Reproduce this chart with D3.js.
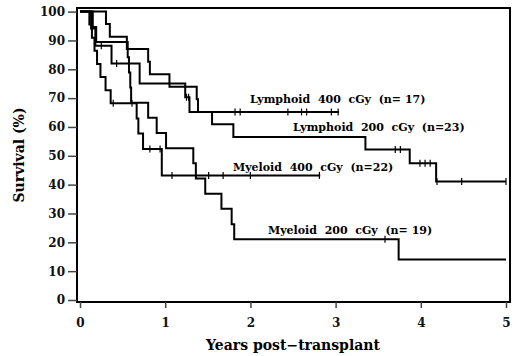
<!DOCTYPE html>
<html>
<head>
<meta charset="utf-8">
<script src="https://cdn.jsdelivr.net/npm/d3@7"></script>
<style>
  body { margin: 0; background: #fff; }
  text { font-family: "DejaVu Serif", "Liberation Serif", serif; font-weight: bold; }
</style>
</head>
<body>
<div id="chart"></div>
<script>
// Kaplan-Meier curves: drop times (years) and survival (%) after each drop
var lymph400Times = [0.13, 0.18, 0.37, 0.70, 1.235, 1.285];
var lymph400Surv = [94.1, 88.2, 82.0, 75.1, 70.3, 65.2];
var lymph400Cens = [0.25, 0.43, 1.25, 1.275, 1.82, 1.88, 2.44, 2.60, 2.66, 2.95, 3.03];
var lymph400End = 3.04;

var lymph200Times = [0.305, 0.35, 0.55, 0.80, 0.82, 1.05, 1.37, 1.385, 1.55, 1.80, 3.35, 3.87, 4.18];
var lymph200Surv = [95.7, 91.3, 87.0, 82.6, 78.3, 73.9, 69.6, 65.2, 60.9, 56.5, 52.2, 47.4, 41.1];
var lymph200Cens = [3.70, 3.76, 3.99, 4.05, 4.11, 4.19, 4.48, 5.0];
var lymph200End = 5.0;

var myelo400Times = [0.11, 0.14, 0.17, 0.20, 0.24, 0.30, 0.36, 0.665, 0.685, 0.74, 0.96];
var myelo400Surv = [95.5, 90.9, 86.4, 81.8, 77.3, 72.7, 68.2, 62.9, 57.7, 52.4, 43.2];
var myelo400Cens = [0.39, 0.61, 0.82, 0.94, 1.08, 1.51, 1.68, 2.0, 2.81];
var myelo400End = 2.82;

var myelo200Times = [0.15, 0.19, 0.56, 0.575, 0.59, 0.60, 0.80, 0.90, 1.01, 1.33, 1.36, 1.47, 1.66, 1.78, 1.81, 3.74];
var myelo200Surv = [94.7, 89.5, 84.2, 78.9, 73.7, 68.4, 63.2, 57.9, 52.6, 47.4, 42.1, 36.8, 31.6, 26.3, 21.1, 14.0];
var myelo200Cens = [3.58];
var myelo200End = 5.0;

// curve labels: text, start year, baseline survival
var labelNames = ["Lymphoid  400  cGy  (n= 17)", "Lymphoid  200  cGy  (n=23)", "Myeloid  400  cGy  (n=22)", "Myeloid  200  cGy  (n= 19)"];
var labelX = [1.995, 2.5, 1.796, 2.207];
var labelY = [68.2, 58.6, 44.8, 22.9];

var xTicks = [0, 1, 2, 3, 4, 5];
var yTicks = [0, 10, 20, 30, 40, 50, 60, 70, 80, 90, 100];

var width = 520, height = 356;

var svg = d3.select("#chart")
  .append("svg")
  .attr("width", width)
  .attr("height", height);

var x = d3.scaleLinear().domain([0, 5]).range([80, 506]);
var y = d3.scaleLinear().domain([0, 100]).range([300, 11.6]);

// frame
svg.append("rect")
  .attr("x", 77)
  .attr("y", 8)
  .attr("width", 510 - 77)
  .attr("height", 302 - 8)
  .attr("fill", "none")
  .attr("stroke", "#000")
  .attr("stroke-width", 2);

// y axis
var yAxis = svg.append("g")
  .attr("transform", "translate(77,0)")
  .call(d3.axisLeft(y).tickValues(yTicks).tickSize(9).tickPadding(3));
yAxis.select(".domain").remove();
yAxis.selectAll("line").attr("stroke", "#444").attr("stroke-width", 1.5);
yAxis.selectAll("text").style("font-size", "12px").attr("fill", "#111");

// x axis
var xAxis = svg.append("g")
  .attr("transform", "translate(0,302)")
  .call(d3.axisBottom(x).tickValues(xTicks).tickFormat(d3.format("d")).tickSize(6).tickPadding(10));
xAxis.select(".domain").remove();
xAxis.selectAll("line").attr("stroke", "#444").attr("stroke-width", 1.5);
xAxis.selectAll("text").style("font-size", "12px").attr("fill", "#111");

// axis titles
svg.append("text")
  .attr("x", 293)
  .attr("y", 350)
  .attr("text-anchor", "middle")
  .style("font-size", "14px")
  .text("Years post\u2212transplant");

svg.append("text")
  .attr("transform", "translate(24,155) rotate(-90)")
  .attr("text-anchor", "middle")
  .style("font-size", "14px")
  .text("Survival (%)");

var line = d3.line()
  .x(function (d) { return x(d[0]); })
  .y(function (d) { return y(d[1]); })
  .curve(d3.curveStepAfter);

function drawCurve(times, surv, cens, end) {
  var pts = [[0, 100]];
  times.forEach(function (t, i) { pts.push([t, surv[i]]); });
  pts.push([end, surv[surv.length - 1]]);

  svg.append("path")
    .attr("d", line(pts))
    .attr("fill", "none")
    .attr("stroke", "#000")
    .attr("stroke-width", 2);

  // censor marks sit on the level in force at that time
  svg.selectAll(null)
    .data(cens)
    .enter()
    .append("line")
    .attr("x1", function (d) { return x(d); })
    .attr("x2", function (d) { return x(d); })
    .attr("y1", function (d) { return y(levelAt(times, surv, d)) - 3.5; })
    .attr("y2", function (d) { return y(levelAt(times, surv, d)) + 3.5; })
    .attr("stroke", "#000")
    .attr("stroke-width", 1.2);
}

function levelAt(times, surv, t) {
  var s = 100;
  times.forEach(function (tt, i) { if (tt <= t) s = surv[i]; });
  return s;
}

drawCurve(lymph400Times, lymph400Surv, lymph400Cens, lymph400End);
drawCurve(lymph200Times, lymph200Surv, lymph200Cens, lymph200End);
drawCurve(myelo400Times, myelo400Surv, myelo400Cens, myelo400End);
drawCurve(myelo200Times, myelo200Surv, myelo200Cens, myelo200End);

// curve labels
svg.selectAll(".curve-label")
  .data(labelNames)
  .enter()
  .append("text")
  .attr("class", "curve-label")
  .attr("x", function (d, i) { return x(labelX[i]); })
  .attr("y", function (d, i) { return y(labelY[i]); })
  .style("font-size", "11px")
  .style("white-space", "pre")
  .attr("xml:space", "preserve")
  .text(function (d) { return d; });
</script>
</body>
</html>
